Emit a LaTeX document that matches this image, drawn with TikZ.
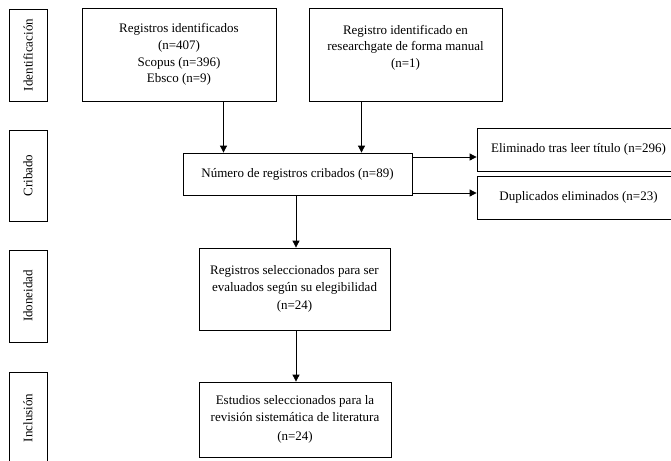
\documentclass[tikz,border=0pt]{standalone}
\usepackage{fontspec}
\setmainfont{Liberation Serif}
\usetikzlibrary{arrows.meta}
\begin{document}
\begin{tikzpicture}[x=1pt,y=-1pt,
    caja/.style={draw,line width=0.8pt,align=center,inner sep=0pt,font=\fontsize{13}{16.7}\selectfont},
    etapa/.style={caja,rotate=90,minimum height=38pt},
    flecha/.style={line width=0.8pt,-{Triangle[width=7pt,length=7pt]}}]
    \clip (0,0) rectangle (671,460);
    % fases
    \node[etapa,minimum width=92pt] (fid) at (28,55) {Identificación};
    \node[etapa,minimum width=91pt] (fcr) at (28,175.5) {Cribado};
    \node[etapa,minimum width=92pt] (fido) at (28,296) {Idoneidad};
    \node[etapa,minimum width=92pt] (finc) at (28,418) {Inclusión};
    % cajas
    \node[caja,minimum width=194pt,minimum height=93pt] (reg) at (179,54.5) {Registros identificados\\(n=407)\\Scopus (n=396)\\Ebsco (n=9)};
    \node[caja,minimum width=193pt,minimum height=93pt] (rg) at (405.5,54.5) {Registro identificado en\\researchgate de forma manual\\(n=1)\\ \mbox{}};
    \node[caja,minimum width=229pt,minimum height=42pt] (crib) at (297.5,174) {Número de registros cribados (n=89)};
    \node[caja,minimum width=203pt,minimum height=43pt] (elim) at (578.5,149.5) {Eliminado tras leer título (n=296)};
    \node[caja,minimum width=203pt,minimum height=43pt] (dup) at (578.5,197.5) {Duplicados eliminados (n=23)};
    \node[caja,minimum width=191pt,minimum height=82pt] (sel) at (294.5,289) {Registros seleccionados para ser\\evaluados según su elegibilidad\\[2pt](n=24)};
    \node[caja,minimum width=192pt,minimum height=75pt] (est) at (295,419.5) {Estudios seleccionados para la\\revisión sistemática de literatura\\[2pt](n=24)};
    % flechas
    \coordinate (c1) at (223.5,0);
    \coordinate (c2) at (361.5,0);
    \coordinate (c3) at (296,0);
    \coordinate (c4) at (0,157);
    \coordinate (c5) at (0,193);
    \draw[flecha] (reg.south -| c1) -- (crib.north -| c1);
    \draw[flecha] (rg.south -| c2) -- (crib.north -| c2);
    \draw[flecha] (crib.east |- c4) -- (elim.west |- c4);
    \draw[flecha] (crib.east |- c5) -- (dup.west |- c5);
    \draw[flecha] (crib.south -| c3) -- (sel.north -| c3);
    \draw[flecha] (sel.south -| c3) -- (est.north -| c3);
\end{tikzpicture}
\end{document}
